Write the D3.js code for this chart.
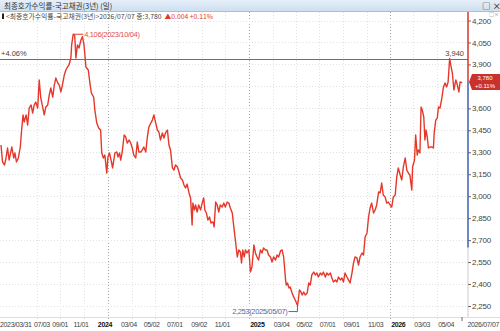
<!DOCTYPE html>
<html>
<head>
<meta charset="utf-8">
<script src="https://cdn.jsdelivr.net/npm/d3@7"></script>
<style>
  body { margin: 0; background: #fff; }
  svg { display: block; }
  text { font-family: "Liberation Sans", "Noto Sans CJK KR", sans-serif; }
  .kr { font-family: "Noto Sans CJK KR", "Liberation Sans", sans-serif; }
  .dt { letter-spacing: -0.35px; }
</style>
</head>
<body>
<svg id="chart" width="500" height="331"></svg>
<script>
// 최종호가수익률-국고채권(3년), daily closes
const dates = [
  "2023-03-31","2023-04-04","2023-04-09","2023-04-13","2023-04-17","2023-04-21","2023-04-28","2023-05-03","2023-05-06","2023-05-10",
  "2023-05-15","2023-05-20","2023-05-23","2023-05-27","2023-05-30","2023-06-04","2023-06-08","2023-06-12","2023-06-17","2023-06-21",
  "2023-06-25","2023-06-29","2023-07-04","2023-07-08","2023-07-12","2023-07-17","2023-07-21","2023-07-25","2023-07-30","2023-08-03",
  "2023-08-07","2023-08-12","2023-08-16","2023-08-20","2023-08-25","2023-08-29","2023-09-02","2023-09-06","2023-09-11","2023-09-15",
  "2023-09-19","2023-09-23","2023-09-28","2023-09-30","2023-10-04","2023-10-08","2023-10-11","2023-10-15","2023-10-19","2023-10-24",
  "2023-10-28","2023-11-01","2023-11-06","2023-11-12","2023-11-17","2023-11-20","2023-11-26","2023-11-29","2023-12-04","2023-12-09",
  "2023-12-14","2023-12-17","2023-12-21","2023-12-25","2023-12-30","2024-01-02","2024-01-06","2024-01-11","2024-01-14","2024-01-20",
  "2024-01-25","2024-01-28","2024-02-01","2024-02-04","2024-02-08","2024-02-13","2024-02-17","2024-02-21","2024-02-26","2024-03-01",
  "2024-03-05","2024-03-09","2024-03-14","2024-03-18","2024-03-22","2024-03-27","2024-03-31","2024-04-04","2024-04-09","2024-04-13",
  "2024-04-17","2024-04-22","2024-04-26","2024-04-30","2024-05-04","2024-05-09","2024-05-13","2024-05-17","2024-05-22","2024-05-26",
  "2024-05-30","2024-06-04","2024-06-08","2024-06-12","2024-06-17","2024-06-21","2024-06-25","2024-06-30","2024-07-04","2024-07-08",
  "2024-07-13","2024-07-17","2024-07-21","2024-07-25","2024-07-30","2024-08-03","2024-08-07","2024-08-09","2024-08-13","2024-08-16",
  "2024-08-20","2024-08-24","2024-08-29","2024-09-02","2024-09-06","2024-09-09","2024-09-13","2024-09-17","2024-09-21","2024-09-25",
  "2024-09-30","2024-10-03","2024-10-07","2024-10-11","2024-10-15","2024-10-19","2024-10-24","2024-10-28","2024-11-01","2024-11-06",
  "2024-11-10","2024-11-14","2024-11-19","2024-11-23","2024-11-27","2024-12-02","2024-12-06","2024-12-10","2024-12-13","2024-12-16",
  "2024-12-20","2024-12-23","2024-12-27","2025-01-01","2025-01-05","2025-01-09","2025-01-14","2025-01-18","2025-01-22","2025-01-26",
  "2025-01-31","2025-02-04","2025-02-08","2025-02-13","2025-02-17","2025-02-21","2025-02-26","2025-03-02","2025-03-06","2025-03-11",
  "2025-03-15","2025-03-19","2025-03-24","2025-03-28","2025-04-01","2025-04-04","2025-04-06","2025-04-08","2025-04-11","2025-04-15",
  "2025-04-18","2025-04-23","2025-04-27","2025-05-01","2025-05-07","2025-05-09","2025-05-12","2025-05-16","2025-05-19","2025-05-23",
  "2025-05-27","2025-06-01","2025-06-05","2025-06-09","2025-06-13","2025-06-18","2025-06-22","2025-06-26","2025-06-30","2025-07-05",
  "2025-07-09","2025-07-13","2025-07-18","2025-07-22","2025-07-26","2025-07-31","2025-08-04","2025-08-08","2025-08-13","2025-08-17",
  "2025-08-21","2025-08-26","2025-08-30","2025-09-03","2025-09-07","2025-09-12","2025-09-16","2025-09-20","2025-09-25","2025-09-29",
  "2025-10-03","2025-10-08","2025-10-12","2025-10-16","2025-10-21","2025-10-25","2025-10-29","2025-11-03","2025-11-07","2025-11-11",
  "2025-11-15","2025-11-20","2025-11-24","2025-11-28","2025-12-03","2025-12-07","2025-12-11","2025-12-15","2025-12-20","2025-12-24",
  "2025-12-28","2026-01-02","2026-01-06","2026-01-10","2026-01-15","2026-01-19","2026-01-23","2026-01-28","2026-02-01","2026-02-05",
  "2026-02-10","2026-02-14","2026-02-18","2026-02-22","2026-02-27","2026-03-01","2026-03-06","2026-03-09","2026-03-13","2026-03-16",
  "2026-03-20","2026-03-23","2026-03-26","2026-03-30","2026-04-02","2026-04-05","2026-04-08","2026-04-11","2026-04-15","2026-04-20",
  "2026-04-24","2026-04-26","2026-04-30","2026-05-04","2026-05-07","2026-05-11","2026-05-15","2026-05-20","2026-05-24","2026-05-28",
  "2026-06-01","2026-06-05","2026-06-08","2026-06-12","2026-06-16","2026-06-21","2026-06-25","2026-06-29","2026-07-02","2026-07-06",
  "2026-07-07"
];
const yields = [
  3.350,3.234,3.213,3.261,3.329,3.247,3.336,3.261,3.295,3.234,
  3.261,3.336,3.438,3.555,3.507,3.555,3.486,3.602,3.623,3.568,
  3.623,3.643,3.602,3.794,3.671,3.609,3.555,3.609,3.623,3.691,
  3.739,3.677,3.759,3.807,3.773,3.759,3.712,3.759,3.828,3.862,
  3.882,3.896,3.944,4.033,4.106,4.095,3.944,4.033,4.012,4.067,
  4.090,4.033,3.882,3.862,3.759,3.705,3.677,3.589,3.500,3.466,
  3.452,3.295,3.261,3.281,3.158,3.268,3.295,3.234,3.193,3.295,
  3.302,3.268,3.295,3.247,3.302,3.418,3.404,3.363,3.384,3.363,
  3.329,3.281,3.261,3.370,3.302,3.302,3.316,3.336,3.302,3.404,
  3.473,3.500,3.520,3.555,3.507,3.452,3.438,3.384,3.432,3.397,
  3.432,3.452,3.350,3.316,3.193,3.179,3.213,3.199,3.165,3.124,
  3.111,3.076,3.056,3.083,3.022,2.988,2.803,2.953,2.906,2.940,
  2.892,2.940,2.906,2.953,2.988,2.906,2.885,2.837,2.858,2.817,
  2.824,2.790,2.960,2.940,2.892,2.940,2.926,2.953,2.926,2.960,
  2.953,2.919,2.885,2.790,2.701,2.585,2.633,2.619,2.544,2.633,
  2.585,2.633,2.612,2.633,2.482,2.516,2.667,2.612,2.585,2.564,
  2.633,2.612,2.646,2.633,2.633,2.598,2.585,2.551,2.585,2.564,
  2.598,2.585,2.626,2.633,2.585,2.496,2.428,2.393,2.407,2.373,
  2.380,2.339,2.312,2.291,2.253,2.291,2.359,2.346,2.325,2.346,
  2.325,2.339,2.407,2.393,2.462,2.482,2.462,2.475,2.448,2.475,
  2.462,2.482,2.448,2.475,2.462,2.475,2.441,2.414,2.428,2.414,
  2.448,2.428,2.441,2.414,2.475,2.448,2.428,2.407,2.475,2.544,
  2.585,2.578,2.530,2.585,2.612,2.598,2.721,2.749,2.858,2.919,
  2.953,2.885,2.906,2.940,3.029,3.022,3.090,3.008,2.994,2.953,
  2.960,2.940,2.926,2.994,3.008,3.131,3.193,3.145,3.111,3.199,
  3.261,3.179,3.158,3.145,3.042,3.199,3.247,3.418,3.281,3.316,
  3.295,3.609,3.589,3.541,3.384,3.452,3.404,3.329,3.336,3.336,
  3.329,3.432,3.520,3.534,3.609,3.602,3.657,3.746,3.773,3.746,
  3.780,3.940,3.896,3.841,3.725,3.794,3.759,3.712,3.780,3.776,
  3.780
];

// axis ticks
const yTicks = [2.25, 2.40, 2.55, 2.70, 2.85, 3.00, 3.15, 3.30, 3.45, 3.60, 3.75, 3.90, 4.05, 4.20];
const xTickDates = ["2023-07-03","2023-09-01","2023-11-01","2024-01-02","2024-03-04","2024-05-02","2024-07-01","2024-09-02","2024-11-01",
                    "2025-01-02","2025-03-04","2025-05-02","2025-07-01","2025-09-01","2025-11-03","2026-01-02","2026-03-03","2026-05-04"];
const xTickLabels = ["07/03","09/01","11/01","2024","03/04","05/02","07/01","09/02","11/01",
                     "2025","03/04","05/02","07/01","09/01","11/03","2026","03/03","05/04"];
const yearTicks = ["2024","2025","2026"];

// annotations
const title = "최종호가수익률-국고채권(3년) (일)";
const infoName = "<최종호가수익률-국고채권(3년)>2026/07/07 종:3,780";
const infoChange = "▲0.004  +0.11%";
const highMark = { date: "2023-10-04", value: 4.106 };
const lowMark = { date: "2025-05-07", value: 2.253 };
const refLine = { value: 3.940, left: "+4.06%", right: "3,940" };
const lastValue = 3.780, lastPct = "+0.11%";
const blueFloor = 2.65;

const parse = d3.timeParse("%Y-%m-%d");
const data = dates.map((d, i) => ({ date: parse(d), value: yields[i] }));
const fmt = v => d3.format(".3f")(v).replace(".", ",");

const W = 500, H = 331;
const plotTop = 12, plotBottom = 317, axisX = 468;

const x = d3.scaleTime()
    .domain([parse(dates[0]), parse(dates[dates.length - 1])])
    .range([1, 462]);
const y = d3.scaleLinear().domain([2.25, 4.2]).range([306, 20.5]);

const svg = d3.select("#chart");

// title bar
const grad = svg.append("defs").append("linearGradient")
    .attr("id", "tb").attr("x1", 0).attr("y1", 0).attr("x2", 0).attr("y2", 1);
grad.append("stop").attr("offset", 0).attr("stop-color", "#e6eff9");
grad.append("stop").attr("offset", 1).attr("stop-color", "#cddff0");
svg.append("rect").attr("x", 0).attr("y", 0).attr("width", W).attr("height", 11).attr("fill", "url(#tb)");
svg.append("line").attr("x1", 0).attr("x2", W).attr("y1", 11.5).attr("y2", 11.5).attr("stroke", "#a9bfd6");
svg.append("text").attr("class", "kr").attr("x", 4).attr("y", 8.5)
    .attr("font-size", 7.5).attr("fill", "#333").text(title);
svg.append("text").attr("class", "kr").attr("x", 482).attr("y", 9).attr("font-size", 8.5).attr("fill", "#222").text("□ ×");

// vertical grid
svg.append("g").selectAll("line").data(xTickDates).enter().append("line")
    .attr("x1", d => Math.round(x(parse(d))) + 0.5)
    .attr("x2", d => Math.round(x(parse(d))) + 0.5)
    .attr("y1", plotTop).attr("y2", plotBottom + 3)
    .attr("stroke", (d, i) => yearTicks.includes(xTickLabels[i]) ? "#a8a8a8" : "#e2e2e2")
    .attr("stroke-dasharray", "1,2");

// horizontal grid
svg.append("g").selectAll("line").data(yTicks).enter().append("line")
    .attr("x1", 0).attr("x2", axisX)
    .attr("y1", d => Math.round(y(d)) + 0.5).attr("y2", d => Math.round(y(d)) + 0.5)
    .attr("stroke", "#e2e2e2").attr("stroke-dasharray", "1,2");

// info line
svg.append("rect").attr("x", 2).attr("y", 13.5).attr("width", 2).attr("height", 5.5).attr("fill", "#222");
const info = svg.append("text").attr("class", "kr").attr("x", 6).attr("y", 19).attr("font-size", 6.8);
info.append("tspan").attr("fill", "#444").text(infoName);
info.append("tspan").attr("fill", "#e0392e").attr("dx", 3).text(infoChange);

// reference line at recent high
svg.append("line").attr("x1", 0).attr("x2", axisX)
    .attr("y1", Math.round(y(refLine.value)) + 0.5).attr("y2", Math.round(y(refLine.value)) + 0.5)
    .attr("stroke", "#707070");
svg.append("text").attr("x", 1).attr("y", y(refLine.value) - 2.5)
    .attr("font-size", 7.5).attr("fill", "#444").text(refLine.left);
svg.append("text").attr("x", 464).attr("y", y(refLine.value) - 2.5).attr("text-anchor", "end")
    .attr("font-size", 7.5).attr("fill", "#444").text(refLine.right);

// price line
const line = d3.line().x(d => x(d.date)).y(d => y(d.value));
svg.append("path").datum(data)
    .attr("fill", "none").attr("stroke", "#e5382b").attr("stroke-width", 1.4)
    .attr("stroke-linejoin", "round").attr("d", line);

// high annotation
const hx = x(parse(highMark.date)), hy = y(highMark.value);
svg.append("line").attr("x1", hx).attr("x2", hx + 10).attr("y1", hy).attr("y2", hy).attr("stroke", "#e5382b");
svg.append("text").attr("class", "dt").attr("x", hx + 11).attr("y", hy + 2.5).attr("font-size", 7.5).attr("fill", "#e05048")
    .text(fmt(highMark.value) + "(" + highMark.date.replace(/-/g, "/") + ")");

// low annotation
const lx = x(parse(lowMark.date)), ly = y(lowMark.value);
svg.append("path").attr("fill", "none").attr("stroke", "#4a6fa8")
    .attr("d", `M${lx},${ly} V${ly + 6} H${lx - 9}`);
svg.append("text").attr("class", "dt").attr("x", lx - 10).attr("y", ly + 8.5).attr("text-anchor", "end")
    .attr("font-size", 7.5).attr("fill", "#4a6fa8")
    .text(fmt(lowMark.value) + "(" + lowMark.date.replace(/-/g, "/") + ")");

// right axis
const ty = y(lastValue);
svg.append("rect").attr("x", axisX).attr("y", plotTop).attr("width", W - axisX).attr("height", plotBottom - plotTop).attr("fill", "#fff");
const yAxis = svg.append("g").attr("transform", `translate(${axisX},0)`)
    .call(d3.axisRight(y).tickValues(yTicks).tickFormat(fmt).tickSize(3).tickPadding(1));
yAxis.select(".domain").remove();
yAxis.selectAll(".tick line").attr("stroke", "#666");
yAxis.selectAll("text").attr("font-size", 8).attr("fill", "#444")
    .attr("font-family", "Liberation Sans, sans-serif").attr("letter-spacing", "-0.2px");
// the last-value tag covers the nearest tick label
yAxis.selectAll(".tick").filter(d => Math.abs(y(d) - ty) < 9).remove();

svg.append("line").attr("x1", axisX).attr("x2", axisX).attr("y1", plotTop).attr("y2", ty)
    .attr("stroke", "#d9342b").attr("stroke-width", 1.5);
svg.append("line").attr("x1", axisX).attr("x2", axisX).attr("y1", ty).attr("y2", y(blueFloor))
    .attr("stroke", "#3d5fb0").attr("stroke-width", 1.5);
svg.append("line").attr("x1", axisX).attr("x2", axisX).attr("y1", y(blueFloor)).attr("y2", plotBottom)
    .attr("stroke", "#999").attr("stroke-dasharray", "1,1");

svg.append("text").attr("class", "kr").attr("x", 489).attr("y", 15.5).attr("font-size", 5).attr("fill", "#777").text("□×");

// last value tag
svg.append("path").attr("fill", "#c8322a")
    .attr("d", `M${axisX + 1},${ty} L${axisX + 4},${ty - 8} H${W} V${ty + 8} H${axisX + 4} Z`);
svg.append("text").attr("x", 485).attr("y", ty - 2).attr("text-anchor", "middle")
    .attr("font-size", 6).attr("fill", "#fff").text(fmt(lastValue));
svg.append("text").attr("x", 485).attr("y", ty + 6.5).attr("text-anchor", "middle")
    .attr("font-size", 6).attr("fill", "#fff").text(lastPct);

// bottom axis labels
svg.append("line").attr("x1", 0).attr("x2", W).attr("y1", plotBottom + 0.5).attr("y2", plotBottom + 0.5).attr("stroke", "#ddd");
const bx = svg.append("g");
const split = parse("2024-12-01");
const first = bx.append("text").attr("class", "dt").attr("x", 0).attr("y", 327).attr("font-size", 7).attr("fill", "#444")
    .text(dates[0].replace(/-/g, "/"));
let prevEnd = first.node().getComputedTextLength();
bx.selectAll("text.tk").data(xTickDates).enter().append("text").attr("class", "tk dt")
    .attr("y", 327)
    .attr("font-size", 7)
    .attr("font-weight", (d, i) => yearTicks.includes(xTickLabels[i]) ? "bold" : "normal")
    .attr("fill", (d, i) => yearTicks.includes(xTickLabels[i]) ? "#111" : "#444")
    .text((d, i) => xTickLabels[i])
    .each(function(d) {
        const w = this.getComputedTextLength();
        const px = x(parse(d));
        let left = parse(d) < split ? px - 3 - w / 2 : px + 1;
        left = Math.max(left, prevEnd + 2.5);
        prevEnd = left + w;
        d3.select(this).attr("x", left);
    });
const endX = x(parse(dates[dates.length - 1]));
bx.append("line").attr("x1", endX).attr("x2", endX).attr("y1", plotBottom).attr("y2", plotBottom + 4).attr("stroke", "#666");
bx.append("text").attr("class", "dt").attr("x", 499).attr("y", 327).attr("text-anchor", "end")
    .attr("font-size", 7).attr("fill", "#444").text(dates[dates.length - 1].replace(/-/g, "/"));
</script>
</body>
</html>
